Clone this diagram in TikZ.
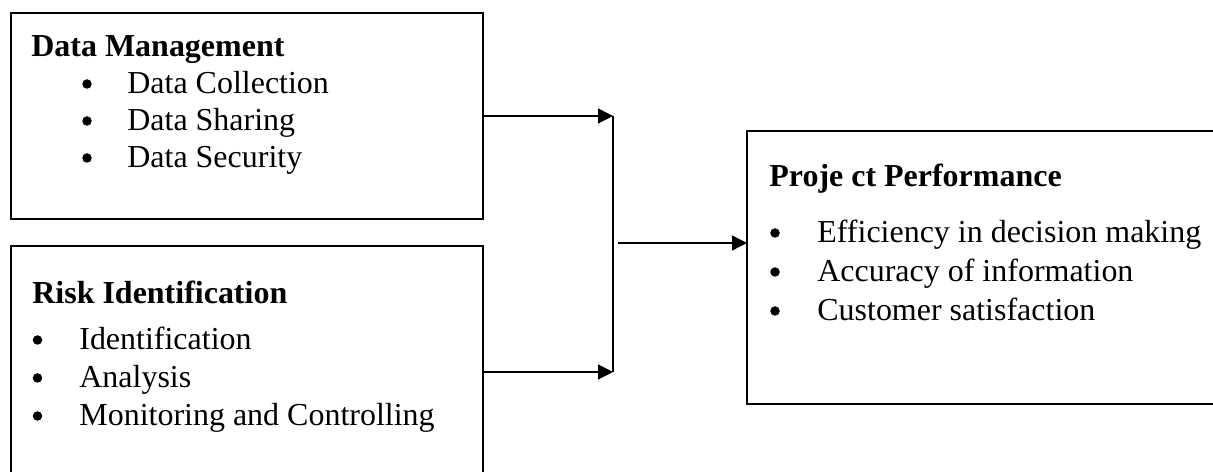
\documentclass[tikz,border=0pt]{standalone}
\usepackage{fontspec}
\setmainfont{Liberation Serif}
\usetikzlibrary{arrows.meta}

\begin{document}
\begin{tikzpicture}[
            x=0.02cm, y=-0.02cm,
            box/.style={draw, line width=1.1pt, inner sep=0pt, outer sep=0pt, anchor=north west},
            head/.style={font=\fontsize{18.2}{22}\selectfont\bfseries, anchor=base west, inner sep=0pt},
            item/.style={font=\fontsize{18.2}{22}\selectfont, anchor=base west, inner sep=0pt},
            dot/.style={circle, fill, inner sep=0pt, minimum size=0.19cm},
            link/.style={line width=0.75pt, -{Triangle[length=8.5pt,width=8.5pt]}}
            ]
            \clip (0,0) rectangle (1213,472);

            \node[box, minimum width=9.44cm, minimum height=4.12cm] (datamgmt) at (11,13) {};
            \node[box, minimum width=9.44cm, minimum height=5.04cm] (riskid) at (11,246) {};
            \node[box, minimum width=9.86cm, minimum height=5.46cm] (perf) at (747,131) {};

            \node[head] (datamgmt-head) at (31,57) {Data Management};
            \foreach \txt [count=\i] in {Data Collection, Data Sharing, Data Security}{
                \node[dot] (datamgmt-b\i) at (87,47+37*\i) {};
                \node[item] (datamgmt-\i) at (127,57+37*\i) {\txt};
            }

            \node[head] (riskid-head) at (32,304) {Risk Identification};
            \foreach \txt [count=\i] in {Identification, Analysis, Monitoring and Controlling}{
                \node[dot] (riskid-b\i) at (37.5,302+38*\i) {};
                \node[item] (riskid-\i) at (79,312+38*\i) {\txt};
            }

            \node[head] (perf-head) at (769,187) {Proje ct Performance};
            \foreach \txt [count=\i] in {Efficiency in decision making, Accuracy of information, Customer satisfaction}{
                \node[dot] (perf-b\i) at (775,194+39*\i) {};
                \node[item] (perf-\i) at (817,204+39*\i) {\txt};
            }

            \coordinate (jtop) at (613,116);
            \coordinate (jbot) at (613,372);
            \coordinate (jmid) at (618,243);

            \draw[link] (datamgmt.east) -- (datamgmt.east -| jtop);
            \draw[link] (riskid.east) -- (riskid.east -| jbot);
            \draw[line width=0.75pt] (jtop) -- (jbot);
            \draw[link] (jmid) -- (perf.west |- jmid);
        \end{tikzpicture}
\end{document}
